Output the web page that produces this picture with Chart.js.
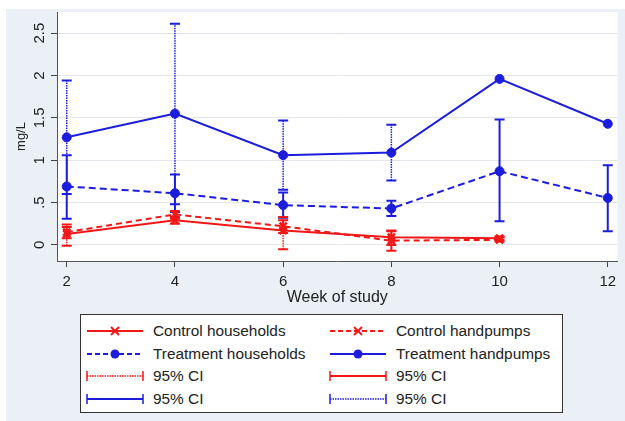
<!DOCTYPE html>
<html>
<head>
<meta charset="utf-8">
<script src="https://cdn.jsdelivr.net/npm/chart.js@4/dist/chart.umd.min.js"></script>
<style>
  body { margin: 0; background: #fff; font-family: "Liberation Sans", Arial, sans-serif; }
  #frame { position: absolute; left: 6px; top: 9px; width: 619px; height: 412px; background: #eaf0f5; }
  #wrap { position: absolute; left: 0; top: 0; width: 625px; height: 310px; }
  #legend { position: absolute; left: 80px; top: 314px; width: 481px; height: 97px;
            border: 1px solid #333; background: #fff; }
  .item { position: absolute; height: 22px; display: flex; align-items: center;
          font-size: 15.4px; color: #222; white-space: nowrap; }
  .item svg { margin-right: 9px; }
</style>
</head>
<body>
<div id="frame"></div>
<div id="wrap"><canvas id="chart"></canvas></div>
<div id="legend"></div>
<script>
// Data
const weeks = [2, 4, 6, 8, 10, 12];
const xTicks = [2, 4, 6, 8, 10, 12];
const yTicks = [0, 0.5, 1, 1.5, 2, 2.5];
const yTickLabels = ["0", ".5", "1", "1.5", "2", "2.5"];

const ctrlHouse = [0.13, 0.29, 0.17, 0.09, 0.08, null];
const ctrlPump = [0.15, 0.36, 0.22, 0.05, 0.06, null];
const trtHouse = [0.69, 0.61, 0.47, 0.43, 0.87, 0.555];
const trtPump = [1.27, 1.55, 1.06, 1.09, 1.96, 1.43];

const ctrlHouseLo = [-0.01, 0.25, -0.05, 0.0, 0.06, null];
const ctrlHouseHi = [0.24, 0.33, 0.33, 0.16, 0.10, null];
const ctrlPumpLo = [0.08, 0.31, 0.14, -0.07, 0.04, null];
const ctrlPumpHi = [0.21, 0.40, 0.29, 0.17, 0.09, null];
const trtHouseLo = [0.31, 0.39, 0.32, 0.34, 0.28, 0.16];
const trtHouseHi = [1.06, 0.83, 0.62, 0.52, 1.48, 0.94];
const trtPumpLo = [0.60, 0.48, 0.65, 0.76, null, null];
const trtPumpHi = [1.94, 2.61, 1.47, 1.42, null, null];

const seriesNames = ["Control households", "Control handpumps", "Treatment households", "Treatment handpumps"];
const ciName = "95% CI";

const RED = "#f21616";
const BLUE = "#1c1cdc";

function pts(vals) {
    return weeks.map((w, i) => ({ x: w, y: vals[i] }));
}

// each CI becomes a vertical segment with caps, separated by gaps
function ciPts(lo, hi) {
    const out = [];
    weeks.forEach((w, i) => {
        if (lo[i] === null) return;
        out.push({ x: w, y: lo[i] }, { x: w, y: hi[i] }, { x: w, y: null });
    });
    return out;
}

function lineSet(label, vals, color, dash, style) {
    return {
        label, data: pts(vals), borderColor: color, backgroundColor: color,
        borderWidth: 2, borderDash: dash, pointStyle: style,
        pointRadius: style === "crossRot" ? 5 : 4.5, pointBorderWidth: style === "crossRot" ? 2.5 : 1,
        spanGaps: false, tension: 0
    };
}

function ciSet(lo, hi, color, dotted) {
    return {
        label: ciName, data: ciPts(lo, hi), borderColor: color, backgroundColor: color,
        borderWidth: dotted ? 1.5 : 2, borderDash: dotted ? [1.5, 1] : [],
        pointStyle: "line", pointRadius: 5, pointBorderWidth: 2, spanGaps: false
    };
}

// white plot region + rotated y tick labels
const plotBg = {
    id: "plotBg",
    beforeDraw(chart) {
        const { ctx, chartArea: a } = chart;
        ctx.save();
        ctx.fillStyle = "#fff";
        ctx.fillRect(a.left, a.top, a.right - a.left, a.bottom - a.top);
        ctx.restore();
    },
    afterDraw(chart) {
        const { ctx, chartArea: a, scales } = chart;
        ctx.save();
        ctx.fillStyle = "#222";
        ctx.font = "15px 'Liberation Sans', Arial, sans-serif";
        ctx.textAlign = "center";
        ctx.textBaseline = "middle";
        yTicks.forEach((v, i) => {
            const y = scales.y.getPixelForValue(v);
            ctx.save();
            ctx.translate(a.left - 17, y);
            ctx.rotate(-Math.PI / 2);
            ctx.fillText(yTickLabels[i], 0, 0);
            ctx.restore();
        });
        ctx.restore();
    }
};

const ctx = document.getElementById("chart").getContext("2d");
new Chart(ctx, {
    type: "line",
    data: {
        datasets: [
            lineSet(seriesNames[0], ctrlHouse, RED, [], "crossRot"),
            lineSet(seriesNames[1], ctrlPump, RED, [6, 4], "crossRot"),
            lineSet(seriesNames[2], trtHouse, BLUE, [7, 4], "circle"),
            lineSet(seriesNames[3], trtPump, BLUE, [], "circle"),
            ciSet(ctrlHouseLo, ctrlHouseHi, RED, true),
            ciSet(ctrlPumpLo, ctrlPumpHi, RED, false),
            ciSet(trtHouseLo, trtHouseHi, BLUE, false),
            ciSet(trtPumpLo, trtPumpHi, BLUE, true)
        ]
    },
    options: {
        responsive: true,
        maintainAspectRatio: false,
        animation: false,
        layout: { padding: { top: 9, right: 2, left: 0, bottom: 0 } },
        plugins: { legend: { display: false }, tooltip: { enabled: false } },
        scales: {
            x: {
                type: "linear", min: 1.82, max: 12.18,
                afterBuildTicks: s => { s.ticks = xTicks.map(v => ({ value: v })); },
                afterFit: s => { s.height = 49; },
                border: { color: "#555", width: 1 },
                grid: { drawOnChartArea: false, drawTicks: true, tickLength: 6, tickColor: "#444" },
                ticks: { color: "#222", padding: 6, font: { size: 15, family: "'Liberation Sans', Arial" } },
                title: { display: true, text: "Week of study", color: "#222",
                         font: { size: 16, family: "'Liberation Sans', Arial" }, padding: { top: 0, bottom: 3 } }
            },
            y: {
                min: -0.19, max: 2.75,
                afterBuildTicks: s => { s.ticks = yTicks.map(v => ({ value: v })); },
                afterFit: s => { s.width = 57; },
                border: { color: "#555", width: 1 },
                grid: { color: "#e3e7ec", lineWidth: 1, drawTicks: true, tickLength: 6, tickColor: "#444" },
                ticks: { color: "rgba(0,0,0,0)", font: { size: 15 } },
                title: { display: true, text: "mg/L", color: "#222",
                         font: { size: 13, family: "'Liberation Sans', Arial" }, padding: { top: 14, bottom: 0 } }
            }
        }
    },
    plugins: [plotBg]
});

// Legend in Stata style
const legendItems = [
    { text: seriesNames[0], color: RED, dash: "", mark: "x", caps: false },
    { text: seriesNames[1], color: RED, dash: "5 3", mark: "x", caps: false },
    { text: seriesNames[2], color: BLUE, dash: "5 3", mark: "o", caps: false },
    { text: seriesNames[3], color: BLUE, dash: "", mark: "o", caps: false },
    { text: ciName, color: RED, dash: "1.5 1", mark: "", caps: true },
    { text: ciName, color: RED, dash: "", mark: "", caps: true },
    { text: ciName, color: BLUE, dash: "", mark: "", caps: true },
    { text: ciName, color: BLUE, dash: "1.5 1", mark: "", caps: true }
];
const legend = document.getElementById("legend");
legendItems.forEach((it, i) => {
    const col = i % 2, row = Math.floor(i / 2);
    const div = document.createElement("div");
    div.className = "item";
    div.style.left = (col === 0 ? 5 : 248) + "px";
    div.style.top = (5 + row * 22.6) + "px";
    const w = 58;
    let svg = `<svg width="${w}" height="14" viewBox="0 0 ${w} 14">`;
    svg += `<line x1="1" y1="7" x2="${w - 1}" y2="7" stroke="${it.color}" stroke-width="${it.caps && it.dash ? 1.5 : 2}" ${it.dash ? `stroke-dasharray="${it.dash}"` : ""}/>`;
    if (it.caps) {
        svg += `<line x1="1" y1="2" x2="1" y2="12" stroke="${it.color}" stroke-width="1.5"/>`;
        svg += `<line x1="${w - 1}" y1="2" x2="${w - 1}" y2="12" stroke="${it.color}" stroke-width="1.5"/>`;
    }
    if (it.mark === "o") svg += `<circle cx="${w / 2}" cy="7" r="4.5" fill="${it.color}"/>`;
    if (it.mark === "x") {
        svg += `<line x1="${w / 2 - 4}" y1="3" x2="${w / 2 + 4}" y2="11" stroke="${it.color}" stroke-width="2"/>`;
        svg += `<line x1="${w / 2 - 4}" y1="11" x2="${w / 2 + 4}" y2="3" stroke="${it.color}" stroke-width="2"/>`;
    }
    svg += `</svg>`;
    div.innerHTML = svg + `<span>${it.text}</span>`;
    legend.appendChild(div);
});
</script>
</body>
</html>
